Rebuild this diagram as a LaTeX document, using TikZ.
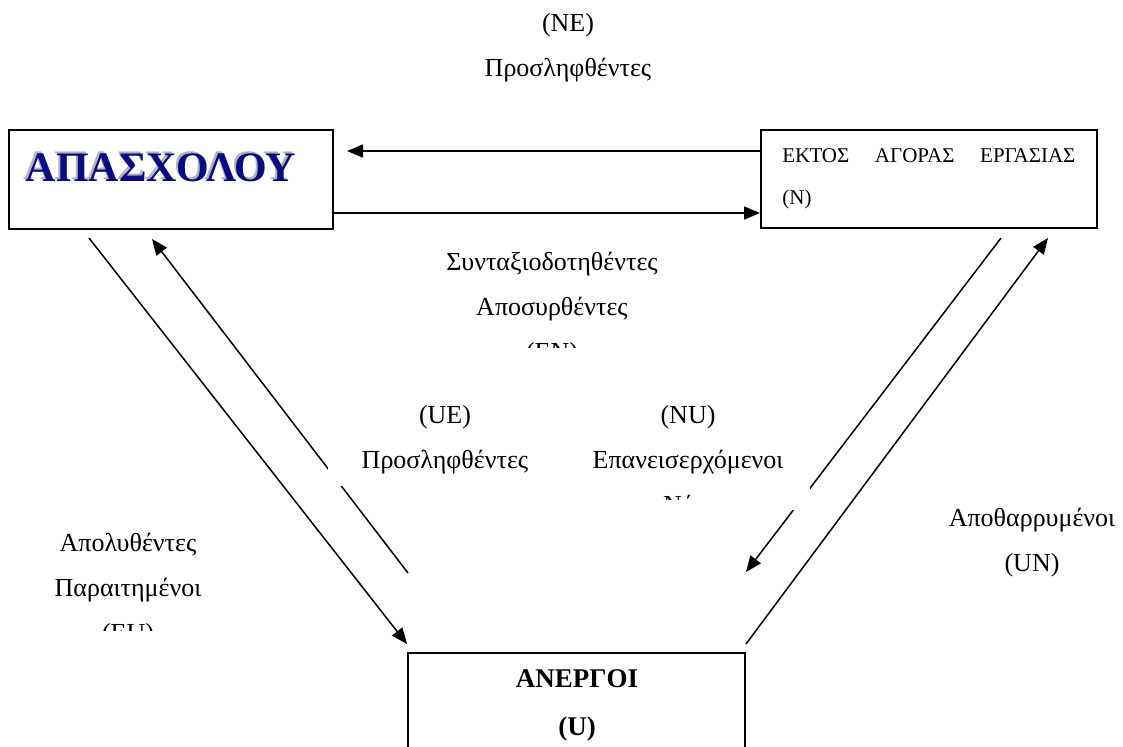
\documentclass[tikz,border=0pt]{standalone}
\usepackage{fontspec}
\setmainfont{Liberation Serif}
\usetikzlibrary{arrows.meta,calc}
\definecolor{wordnavy}{RGB}{10,10,130}

\tikzset{
  box/.style={draw, line width=1pt, inner sep=0pt},
  flow/.style={line width=0.75pt, -{Triangle[length=8pt,width=6.5pt]}},
  lbl/.style={font=\fontsize{13}{22.5}\selectfont, align=center, inner sep=0pt, anchor=north},
  cover/.style={fill=white, draw=none},
}

\begin{document}
\begin{tikzpicture}[x=0.5pt,y=-0.5pt]
\clip (0,0) rectangle (1123,746);
				% States
				\node[box, minimum width=162pt, minimum height=49.5pt] (E) at (171,179.5) {};
				\node[box, minimum width=168pt, minimum height=49pt] (N) at (929,179) {};
				\node[box, minimum width=168.5pt, minimum height=73.5pt] (U) at (576.5,726.5) {};
				
				\node[font=\fontsize{21}{24}\selectfont\bfseries, text=gray!60, inner sep=0pt] (Eshadow) at (159,166) {ΑΠΑΣΧΟΛΟΥ};
				\node[font=\fontsize{21}{24}\selectfont\bfseries, text=wordnavy, inner sep=0pt] (Etext) at (161,168) {ΑΠΑΣΧΟΛΟΥ};
				\node[font=\fontsize{10.5}{21}\selectfont, inner sep=0pt, anchor=north west, align=left] (Ntext) at (782,148)
					{\makebox[146.5pt][s]{ΕΚΤΟΣ\hfill ΑΓΟΡΑΣ\hfill ΕΡΓΑΣΙΑΣ}\\(N)};
				\node[lbl, font=\fontsize{13.5}{24}\selectfont\bfseries] (Utext) at (577,669) {ΑΝΕΡΓΟΙ\\(U)};
				
				% Flows
				\draw[flow] ($(N.west)+(0,-28)$) -- ($(E.east)+(13,-28.5)$);
				\draw[flow] ($(E.east)+(0,33.5)$) -- ($(N.west)+(0,34)$);
				\draw[flow] ($(E.south west)+(81,8)$) -- ($(U.north west)+(0,-8)$);
				\draw[flow] ($(U.north west)+(1,-79)$) -- ($(E.south west)+(144,9)$);
				\draw[flow] ($(N.south west)+(241,9)$) -- ($(U.north east)+(0,-80)$);
				\draw[flow] ($(U.north east)+(0,-8)$) -- ($(N.south west)+(288,9)$);
				
				% Text boxes
				\fill[cover] (328,392) rectangle (560,486);
				\fill[cover] (575,392) rectangle (810,510);
				\node[lbl] (NE) at (568,13) {(NE)\\Προσληφθέντες};
				\begin{scope}
					\clip (420,240) rectangle (700,347);
					\node[lbl] (EN) at (552,252) {Συνταξιοδοτηθέντες\\Αποσυρθέντες\\(EN)};
				\end{scope}
				\node[lbl] (UE) at (445,405) {(UE)\\Προσληφθέντες};
				\begin{scope}
					\clip (575,392) rectangle (810,499);
					\node[lbl] (NU) at (688,405) {(NU)\\Επανεισερχόμενοι\\Νέοι};
				\end{scope}
				\begin{scope}
					\clip (20,520) rectangle (240,630);
					\node[lbl] (EU) at (128,533) {Απολυθέντες\\Παραιτημένοι\\(EU)};
				\end{scope}
				\node[lbl] (UN) at (1032,508) {Αποθαρρυμένοι\\(UN)};
			\end{tikzpicture}
\end{document}
